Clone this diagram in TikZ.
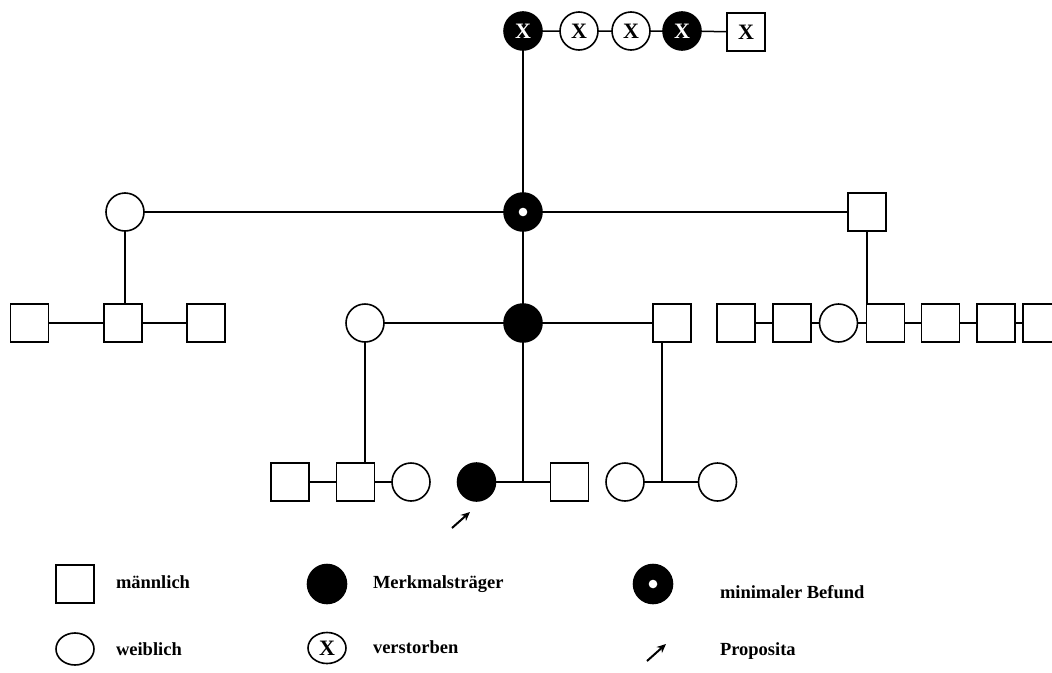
\documentclass[tikz,border=0pt]{standalone}
\usepackage{fontspec}
\setmainfont{Liberation Serif}
\usetikzlibrary{arrows.meta,shapes.geometric}
\begin{document}
\begin{tikzpicture}[x=1pt,y=-1pt,
  every node/.style={inner sep=0pt, outer sep=0pt},
  sym/.style={draw=black, line width=1.6pt, minimum size=38pt},
  male/.style={sym, rectangle},
  female/.style={sym, circle},
  affected/.style={sym, circle, fill=black},
  minimal/.style={affected, path picture={\fill[white] (path picture bounding box.center) circle (4.3pt);}},
  legfemale/.style={draw=black, line width=1.6pt, ellipse, minimum width=38pt, minimum height=32pt},
  dec/.style={font=\bfseries\fontsize{22}{22}\selectfont},
  decw/.style={dec, text=white},
  conn/.style={line width=1.5pt},
  legtext/.style={anchor=base west, font=\bfseries\fontsize{18.5}{20}\selectfont},
  parrow/.style={line width=2pt, -{Stealth[length=9pt,width=8pt]}}
]
\useasboundingbox (0,0) rectangle (1052,672);

% generation I
\node[affected, decw] (t1) at (523,31) {X};
\node[female, dec] (t2) at (579,31) {X};
\node[female, dec] (t3) at (631,31) {X};
\node[affected, decw] (t4) at (682,31) {X};
\node[male, dec] (t5) at (746,32) {X};
\draw[conn] (t1) -- (t2) (t2) -- (t3) (t3) -- (t4) (t4) -- (t5);

% generation II
\node[female] (L) at (125,212) {};
\node[minimal] (D) at (523,212) {};
\node[male] (R) at (867,212) {};
\draw[conn] (t1) -- (D);
\draw[conn] (L) -- (D) (D) -- (R);

% generation III
\node[male] (a1) at (29.5,323) {};
\node[male] (a2) at (123,323) {};
\node[male] (a3) at (206,323) {};
\draw[conn] (a1) -- (a2) (a2) -- (a3);
\draw[conn] (L) -- (L |- a2.north);

\node[female] (m1) at (365,323) {};
\node[affected] (m2) at (523,323) {};
\node[male] (m3) at (672,323) {};
\draw[conn] (m1) -- (m2) (m2) -- (m3);
\draw[conn] (D) -- (m2);

\node[male] (r1) at (736,323) {};
\node[male] (r2) at (792,323) {};
\node[female] (r3) at (838.5,323) {};
\node[male] (r4) at (885.5,323) {};
\node[male] (r5) at (940.5,323) {};
\node[male] (r6) at (996,323) {};
\node[male] (r7) at (1042,323) {};
\draw[conn] (r1) -- (r2) (r2) -- (r3) (r3) -- (r4) (r4) -- (r5) (r5) -- (r6) (r6) -- (r7);
\draw[conn] (R) -- (R |- r4.north);

% generation IV
\node[male] (b1) at (290,482) {};
\node[male] (b2) at (355.5,482) {};
\node[female] (b3) at (411,482) {};
\node[affected] (b4) at (476.5,482) {};
\node[male] (b5) at (569.5,482) {};
\node[female] (b6) at (625,482) {};
\node[female] (b7) at (717.5,482) {};
\draw[conn] (b1) -- (b2) (b2) -- (b3);
\draw[conn] (m1) -- (m1 |- b2.north);
\draw[conn] (b4) -- (b5);
\draw[conn] (m2) -- (m2 |- b4);
\draw[conn] (b6) -- (b7);
\coordinate (m3d) at ([xshift=-10pt]m3.south);
\draw[conn] (m3d) -- (m3d |- b6);

\coordinate (pa1) at (452,528);
\coordinate (pa2) at (470,512);
\draw[parrow] (pa1) -- (pa2);

% legend
\node[male] (lm) at (75,584) {};
\node[legtext] (lmt) at (116,588) {männlich};
\node[legfemale] (lf) at (75,649) {};
\node[legtext] (lft) at (116,655) {weiblich};
\node[affected, minimum size=39pt] (la) at (327,584) {};
\node[legtext] (lat) at (373,588) {Merkmalsträger};
\node[legfemale, minimum height=31pt, dec] (ld) at (327,648) {X};
\node[legtext] (ldt) at (373,653) {verstorben};
\node[minimal, minimum size=39pt] (lmin) at (653,584) {};
\node[legtext] (lmint) at (720,598) {minimaler Befund};
\coordinate (lp1) at (647,661);
\coordinate (lp2) at (666,644);
\draw[parrow] (lp1) -- (lp2);
\node[legtext] (lpt) at (720,655) {Proposita};
\end{tikzpicture}
\end{document}
